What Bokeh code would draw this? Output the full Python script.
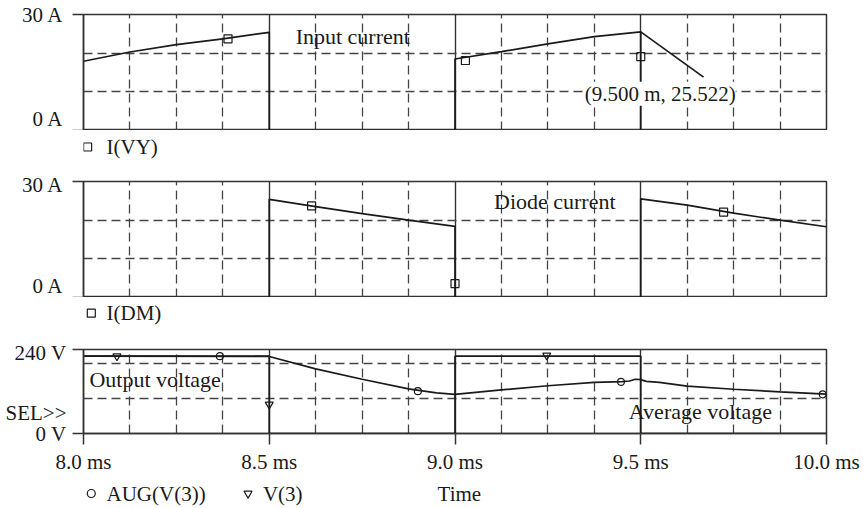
from bokeh.plotting import figure
from bokeh.layouts import column
from bokeh.models import Range1d, FixedTicker, PrintfTickFormatter, Grid, Label
from bokeh.core.properties import value
from bokeh.embed import file_html
from bokeh.resources import INLINE

# ---------------- data (time in ms) ----------------
x_major_ticks = [8.0, 8.5, 9.0, 9.5, 10.0]
x_major_grid = [8.5, 9.0, 9.5]
x_minor_grid = [8.125, 8.25, 8.375, 8.625, 8.75, 8.875, 9.125, 9.25, 9.375, 9.625, 9.75, 9.875]

cur_ticks = [0, 30]
cur_grid = [10, 20]
volt_ticks = [0, 58, 240]        # 58 V carries the "SEL>>" marker label
volt_tick_marks = [0, 240]
volt_grid = [100, 200]
volt_labels = {58: "SEL>>"}

# Input current I(VY)
t_in = [8.0, 8.125, 8.25, 8.375, 8.5, 8.5, 9.0, 9.0, 9.125, 9.25, 9.375, 9.5, 9.5, 10.0]
i_in = [17.9, 20.3, 22.2, 23.7, 25.4, 0, 0, 18.5, 20.4, 22.4, 24.3, 25.522, 0, 0]
t_in_mark = [8.389, 9.028, 9.5]
i_in_mark = [23.7, 18.1, 19.1]
cursor_t = [9.5, 9.669]
cursor_i = [25.522, 13.8]

# Diode current I(DM)
t_d = [8.0, 8.5, 8.5, 8.625, 8.75, 8.875, 9.0, 9.0, 9.5, 9.5, 9.625, 9.75, 9.875, 10.0]
i_d = [0, 0, 25.4, 23.5, 21.7, 20.0, 18.4, 0, 0, 25.5, 23.9, 21.8, 20.0, 18.3]
t_d_mark = [8.614, 9.0, 9.723]
i_d_mark = [23.7, 3.6, 22.1]

# Output voltage V(3)
t_v = [8.0, 8.5, 8.5, 9.0, 9.0, 9.5, 9.5, 10.0]
v_v = [221, 221, 0, 0, 221, 221, 0, 0]
t_v_mark = [8.09, 8.5, 9.247]
v_v_mark = [221, 83, 223]

# Average voltage AUG(V(3))
t_a = [8.0, 8.5, 8.625, 8.75, 8.875, 8.95, 9.0, 9.125, 9.25, 9.375, 9.45, 9.47,
       9.485, 9.5, 9.515, 9.55, 9.625, 9.75, 9.875, 10.0]
v_a = [221, 220, 184.6, 155, 127.3, 116, 112, 124.6, 136.5, 145.9, 148, 150,
       155, 154, 149, 146, 135.6, 126.5, 119, 112.6]
t_a_mark = [8.367, 8.9, 9.447, 9.99]
v_a_mark = [221, 121, 147.6, 112]

# legend rows (trace names, marker kinds, positions along the time axis)
leg1_names = ["I(VY)"]
leg1_markers = ["square"]
leg1_mark_x = [8.011]
leg1_text_x = [8.062]
leg2_names = ["I(DM)"]
leg2_markers = ["square"]
leg2_mark_x = [8.021]
leg2_text_x = [8.062]
leg3_names = ["AUG(V(3))", "V(3)", "Time"]
leg3_markers = ["circle", "inverted_triangle"]
leg3_mark_x = [8.021, 8.443]
leg3_text_x = [8.062, 8.483, 8.953]

# ---------------- style ----------------
FONT = "Liberation Serif"
FS = "21px"
FS_BIG = "22px"
INK = "#1a1a1a"
GRID = "#444444"
DASH = "9 5"
LW = 1.7
W = 860
BL, BR = 83, 34


def make_fig(height, top, bottom, yr, yticks, ygrid, yfmt, xaxis):
    p = figure(width=W, height=height, x_range=Range1d(8.0, 10.0), y_range=Range1d(*yr),
               output_backend="svg", toolbar_location=None,
               x_axis_location="below" if xaxis else None,
               min_border_left=BL, min_border_right=BR, min_border_top=top,
               min_border_bottom=bottom)
    p.grid.visible = False
    p.outline_line_color = "#333333"
    p.outline_line_width = 1.5
    p.background_fill_color = "white"
    p.border_fill_color = "white"
    p.add_layout(Grid(dimension=0, ticker=FixedTicker(ticks=x_minor_grid),
                      grid_line_color=GRID, grid_line_dash=DASH, grid_line_width=1.3))
    p.add_layout(Grid(dimension=0, ticker=FixedTicker(ticks=x_major_grid),
                      grid_line_color="#333333", grid_line_width=1.4))
    p.add_layout(Grid(dimension=1, ticker=FixedTicker(ticks=ygrid),
                      grid_line_color=GRID, grid_line_dash=DASH, grid_line_width=1.3))
    axes = list(p.yaxis) + (list(p.xaxis) if xaxis else [])
    for ax in axes:
        ax.axis_line_color = "#333333"
        ax.axis_line_width = 1.5
        ax.major_tick_line_color = "#333333"
        ax.major_tick_line_width = 1.5
        ax.minor_tick_line_color = "#333333"
        ax.minor_tick_line_width = 1.5
        ax.major_tick_out = 11
        ax.major_tick_in = 0
        ax.minor_tick_out = 0
        ax.minor_tick_in = 0
        ax.major_label_text_font = FONT
        ax.major_label_text_font_size = FS
        ax.major_label_text_color = INK
    p.yaxis.ticker = FixedTicker(ticks=yticks)
    p.yaxis.formatter = PrintfTickFormatter(format=yfmt)
    p.yaxis.major_label_standoff = 9
    if xaxis:
        p.xaxis.ticker = FixedTicker(ticks=x_major_ticks)
        p.xaxis.formatter = PrintfTickFormatter(format="%.1f ms")
        p.xaxis.major_label_standoff = 5
    return p


def legend_fig(height, row, names, markers, mark_x, text_x):
    # a strip under a panel that carries the trace legend, on the same time scale
    p = figure(width=W, height=height, x_range=Range1d(8.0, 10.0), y_range=Range1d(height, 0),
               output_backend="svg", toolbar_location=None,
               x_axis_location=None, y_axis_location=None,
               min_border_left=BL, min_border_right=BR, min_border_top=0, min_border_bottom=0)
    p.grid.visible = False
    p.outline_line_color = None
    p.background_fill_color = "white"
    p.border_fill_color = "white"
    p.scatter(mark_x, [row] * len(mark_x), marker=markers, size=8, fill_color=None,
              line_color=INK, line_width=1.2)
    p.text(text_x, [row] * len(text_x), text=names, text_font=value(FONT),
           text_font_size=value(FS), text_color=INK, text_baseline="middle", text_align="left")
    return p


def label(p, x, y, text, size=FS_BIG, bg=None):
    p.add_layout(Label(x=x, y=y, text=text, text_font=FONT, text_font_size=size,
                       text_color=INK, text_align="left", text_baseline="middle",
                       background_fill_color=bg))


# ---------- panel 1: input current ----------
p1 = make_fig(130, 14, 0, (0, 30), cur_ticks, cur_grid, "%d A", False)
p1.line(t_in, i_in, line_color=INK, line_width=LW)
p1.line(cursor_t, cursor_i, line_color=INK, line_width=LW)
p1.scatter(t_in_mark, i_in_mark, marker="square", size=8, fill_color=None,
           line_color=INK, line_width=1.2)
label(p1, 8.571, 24.3, "Input current")
label(p1, 9.349, 9.5, "(9.500 m, 25.522)", size=FS, bg="white")
l1 = legend_fig(42, 16.5, leg1_names, leg1_markers, leg1_mark_x, leg1_text_x)

# ---------- panel 2: diode current ----------
p2 = make_fig(125, 9, 0, (0, 30), cur_ticks, cur_grid, "%d A", False)
p2.line(t_d, i_d, line_color=INK, line_width=LW)
p2.scatter(t_d_mark, i_d_mark, marker="square", size=8, fill_color=None,
           line_color=INK, line_width=1.2)
label(p2, 9.105, 24.8, "Diode current")
l2 = legend_fig(43, 15.7, leg2_names, leg2_markers, leg2_mark_x, leg2_text_x)

# ---------- panel 3: voltages ----------
p3 = make_fig(136, 9, 40, (0, 240), volt_ticks, volt_grid, "%d V", True)
p3.yaxis.ticker = FixedTicker(ticks=volt_ticks, minor_ticks=volt_tick_marks)
p3.yaxis.major_label_overrides = volt_labels
p3.yaxis.major_tick_out = 0
p3.yaxis.minor_tick_out = 11
p3.yaxis.major_label_standoff = 6
p3.line(t_v, v_v, line_color=INK, line_width=LW)
p3.line(t_a, v_a, line_color=INK, line_width=LW)
p3.scatter(t_v_mark, v_v_mark, marker="inverted_triangle", size=8, fill_color=None,
           line_color=INK, line_width=1.2)
p3.scatter(t_a_mark, v_a_mark, marker="circle", size=7, fill_color=None,
           line_color=INK, line_width=1.2)
label(p3, 8.016, 155, "Output voltage")
label(p3, 9.468, 62.8, "Average voltage")
l3 = legend_fig(30, 17, leg3_names, leg3_markers, leg3_mark_x, leg3_text_x)

layout = column(p1, l1, p2, l2, p3, l3, spacing=0)
open("out.html", "w").write(file_html(layout, INLINE))
